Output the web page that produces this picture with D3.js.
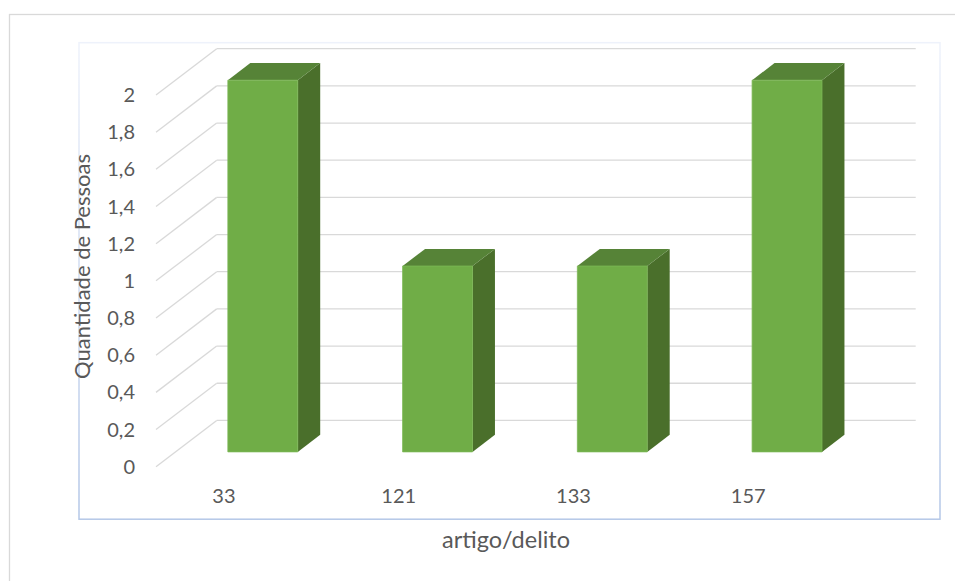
<!DOCTYPE html>
<html>
<head>
<meta charset="utf-8">
<script src="https://cdn.jsdelivr.net/npm/d3@7"></script>
<style>
  html, body { margin: 0; padding: 0; background: #fff; }
  svg { display: block; font-family: "Lato", "Open Sans", sans-serif; }
</style>
</head>
<body>
<svg id="chart" width="955" height="581"></svg>
<script>
const categories = ["33", "121", "133", "157"];
const values = [2, 1, 1, 2];
const yTicks = [0, 0.2, 0.4, 0.6, 0.8, 1, 1.2, 1.4, 1.6, 1.8, 2];
const yTitle = "Quantidade de Pessoas";
const xTitle = "artigo/delito";

document.addEventListener('DOMContentLoaded', () => {
    const svg = d3.select("#chart");

    // oblique 3D: front plane + depth offset
    const depth = { dx: 60.7, dy: -46.3 };
    const barDepth = [0.32, 0.69];

    const x = d3.scaleBand().domain(categories).range([156, 855]).paddingInner(0.6).paddingOuter(0.3);
    const y = d3.scaleLinear().domain([0, 2]).range([466.7, 95]);
    const fmt = v => d3.format(".1~f")(v).replace(".", ",");

    const proj = (px, v, f) => [px + f * depth.dx, y(v) + f * depth.dy];

    // gradient for plot area border
    const defs = svg.append("defs");
    const grad = defs.append("linearGradient").attr("id", "plotBorder")
        .attr("x1", 0).attr("y1", 0).attr("x2", 0).attr("y2", 1);
    grad.append("stop").attr("offset", 0).attr("stop-color", "#eef2fb");
    grad.append("stop").attr("offset", 1).attr("stop-color", "#b4c7e7");

    // outer chart border (cropped at right/bottom)
    svg.append("rect")
        .attr("x", 9.5).attr("y", 14.5).attr("width", 980).attr("height", 600)
        .attr("fill", "none").attr("stroke", "#d9d9d9").attr("stroke-width", 1.3);

    // plot area border
    svg.append("rect")
        .attr("x", 79).attr("y", 42.7).attr("width", 861).attr("height", 476.5)
        .attr("fill", "none").attr("stroke", "url(#plotBorder)").attr("stroke-width", 1.5);

    const [x0, x1] = x.range();

    // left wall diagonals
    svg.append("g").selectAll("line").data(yTicks).join("line")
        .attr("x1", d => proj(x0, d, 0)[0]).attr("y1", d => proj(x0, d, 0)[1])
        .attr("x2", d => proj(x0, d, 1)[0]).attr("y2", d => proj(x0, d, 1)[1])
        .attr("stroke", "#d9d9d9").attr("stroke-width", 1.3);

    // back wall lines
    svg.append("g").selectAll("line").data(yTicks).join("line")
        .attr("x1", d => proj(x0, d, 1)[0]).attr("y1", d => proj(x0, d, 1)[1])
        .attr("x2", d => proj(x1, d, 1)[0]).attr("y2", d => proj(x1, d, 1)[1])
        .attr("stroke", "#d9d9d9").attr("stroke-width", 1.3);

    // bars
    const bars = svg.append("g").selectAll("g").data(categories).join("g");
    const poly = pts => "M" + pts.map(p => p.join(",")).join("L") + "Z";
    const [f0, f1] = barDepth;

    bars.each(function (c, i) {
        const g = d3.select(this);
        const l = x(c), r = x(c) + x.bandwidth(), v = values[i];
        // side
        g.append("path")
            .attr("d", poly([proj(r, 0, f0), proj(r, 0, f1), proj(r, v, f1), proj(r, v, f0)]))
            .attr("fill", "#4a6f2b");
        // top
        g.append("path")
            .attr("d", poly([proj(l, v, f0), proj(r, v, f0), proj(r, v, f1), proj(l, v, f1)]))
            .attr("fill", "#568337");
        // front
        g.append("path")
            .attr("d", poly([proj(l, 0, f0), proj(r, 0, f0), proj(r, v, f0), proj(l, v, f0)]))
            .attr("fill", "#70ad47").attr("stroke", "#7cb755").attr("stroke-width", 0.8);
    });

    // y tick labels
    svg.append("g").selectAll("text").data(yTicks).join("text")
        .attr("x", 135).attr("y", d => y(d))
        .attr("dy", "0.35em").attr("text-anchor", "end")
        .attr("fill", "#595959").style("font-size", "20px")
        .text(fmt);

    // category labels
    svg.append("g").selectAll("text").data(categories).join("text")
        .attr("x", d => x(d) + x.bandwidth() / 2 - barDepth[0] * depth.dx)
        .attr("y", 496).attr("dy", "0.35em").attr("text-anchor", "middle")
        .attr("fill", "#595959").style("font-size", "20px")
        .text(d => d);

    // axis titles
    svg.append("text")
        .attr("transform", "translate(82,266.5) rotate(-90)")
        .attr("dy", "0.35em").attr("text-anchor", "middle")
        .attr("fill", "#595959").style("font-size", "22px")
        .text(yTitle);

    svg.append("text")
        .attr("x", 506).attr("y", 540).attr("dy", "0.35em").attr("text-anchor", "middle")
        .attr("fill", "#595959").style("font-size", "23.5px")
        .text(xTitle);
});
</script>
</body>
</html>
